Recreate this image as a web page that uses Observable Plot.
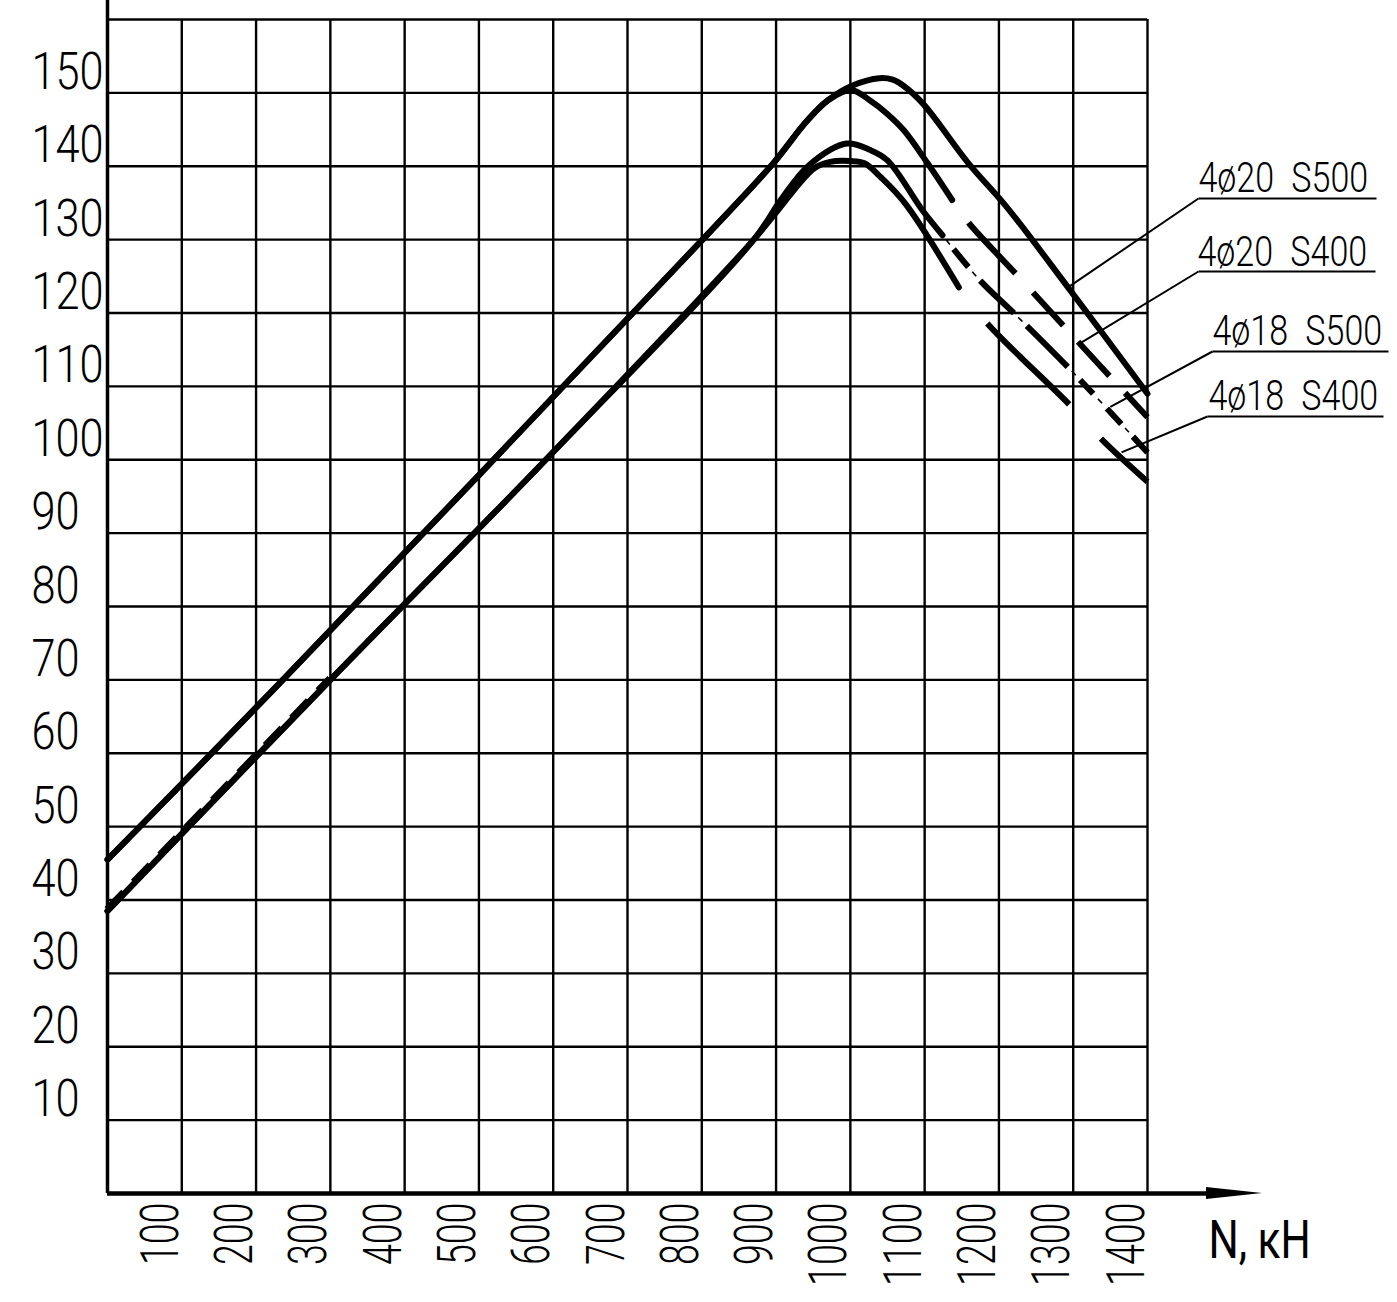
<!DOCTYPE html>
<html>
<head>
<meta charset="utf-8">
<script src="https://cdn.jsdelivr.net/npm/d3@7"></script>
<script src="https://cdn.jsdelivr.net/npm/@observablehq/plot@0.6"></script>
<style>
  body { margin: 0; background: #fff; }
  svg text { white-space: pre; }
</style>
</head>
<body>
<div id="chart"></div>
<script>
// ---------------- DATA ----------------
const seriesNames = ["4ø20\u2002S500", "4ø20\u2002S400", "4ø18\u2002S500", "4ø18\u2002S400"];

// N, kN (x) and the plotted value (y) for each curve
const c1N = [0, 236, 801, 897, 940, 970, 1003, 1039, 1057, 1071, 1098, 1159, 1210, 1293, 1400];
const c1M = [45.5, 70, 130, 140.5, 146, 149, 151, 152, 151.8, 151, 148.5, 140.4, 134.5, 123.5, 109];

const c2N = [0, 236, 801, 897, 940, 970, 1001, 1026, 1049, 1072, 1104, 1137, 1160, 1225, 1290, 1400];
const c2M = [45.5, 70, 130, 140.5, 146, 149, 150.4, 149, 147.2, 144.9, 140.4, 135.4, 132.2, 125.1, 117.9, 105.8];

const c3N = [0, 300, 590, 870, 907, 945, 995, 1027, 1050, 1097, 1124, 1174, 1221, 1295, 1400];
const c3M = [38.5, 70, 100, 130, 135.5, 140.2, 143.1, 142.2, 140.8, 134, 130.6, 124.5, 119.9, 112.4, 101];

const c4N = [0, 300, 590, 870, 900, 951, 973, 1000, 1019, 1041, 1074, 1146, 1185, 1296, 1340, 1400];
const c4M = [38.5, 70, 100, 130, 133.7, 139.7, 140.6, 140.7, 140.4, 138.5, 134.9, 123.5, 118.5, 107.4, 102.6, 97];

const xTicks = [100, 200, 300, 400, 500, 600, 700, 800, 900, 1000, 1100, 1200, 1300, 1400];
const yTicks = [10, 20, 30, 40, 50, 60, 70, 80, 90, 100, 110, 120, 130, 140, 150];
const yGrid  = [10, 20, 30, 40, 50, 60, 70, 80, 90, 100, 110, 120, 130, 140, 150, 160];
const xLabel = "N, кН";

// points on each curve where its leader line touches
const leaderN = [1293, 1308, 1350, 1365];
const leaderM = [123.5, 115.8, 107.2, 101];

// ---------------- LAYOUT / STYLE ----------------
const W = 1397, H = 1302, ML = 107, MR = 250, MT = 19, MB = 109;
const IW = W - ML - MR, IH = H - MT - MB;
const invX = px => (px - ML) / IW * 1400;
const invY = py => (H - MB - py) / IH * 160;
const FONT = "Roboto, 'DejaVu Sans Condensed', 'DejaVu Sans', sans-serif";

const curves = [[c1N, c1M], [c2N, c2M], [c3N, c3M], [c4N, c4M]];
const styles = [
  {breakN: Infinity},
  {breakN: 1137, dash: "0,28,69,26,45,22,46,23,80"},
  {breakN: 1124, dash: "0,18,23,18,47,18,58,18,19,20,21,17,80", dots: "0,6,6,35,6,59,6,70,6,32,6,33.5,6,200", riseTo: 300},
  {breakN: 1146, dash: "0,46,115,47,120"}
];
const legendPx = [
  {tx: 1198, ty: 191, ux1: 1198, ux2: 1376, uy: 198},
  {tx: 1197, ty: 265, ux1: 1198, ux2: 1375, uy: 271},
  {tx: 1212, ty: 344, ux1: 1212, ux2: 1388, uy: 351},
  {tx: 1208, ty: 409, ux1: 1207, ux2: 1383, uy: 416}
];
// horizontal squeeze of each text group (narrow drafting font)
const squeeze = {ylab: 0.85, xlab: 0.71, legend: 0.81, title: 0.8};

const heads = [], tails = [], rises = [];
curves.forEach(([N, M], k) => {
  const pts = N.map((n, i) => ({n, m: M[i], k}));
  heads.push(pts.filter(p => p.n <= styles[k].breakN));
  tails.push(pts.filter(p => p.n >= styles[k].breakN));
  if (styles[k].riseTo) rises.push(pts.filter(p => p.n <= styles[k].riseTo));
});

const legend = seriesNames.map((name, k) => ({
  name, ...legendPx[k], tN: leaderN[k], tM: leaderM[k]
}));

const CURVE = "catmull-rom";
const marks = [
  Plot.gridX(xTicks, {stroke: "black", strokeOpacity: 1, strokeWidth: 2.4}),
  Plot.gridY(yGrid, {stroke: "black", strokeOpacity: 1, strokeWidth: 2.4}),
  Plot.ruleX([0], {y1: 0, y2: invY(0), stroke: "black", strokeWidth: 3.5}),
  Plot.ruleY([0], {x1: 0, x2: invX(1215), stroke: "black", strokeWidth: 4.5}),
  (index, scales) => {
    const y0 = scales.y(0), xt = scales.x(invX(1262)), xb = scales.x(invX(1206));
    return d3.create("svg:path")
      .attr("d", `M${xb},${y0 - 6}L${xt},${y0}L${xb},${y0 + 6}Z`)
      .attr("fill", "black").node();
  },
  ...heads.map(h => Plot.line(h, {x: "n", y: "m", curve: CURVE, stroke: "black", strokeWidth: 6, strokeLinejoin: "round", strokeLinecap: "round"})),
  // dash-dot curve drawn alongside the shared rising line near the origin (notched look)
  ...rises.map(r => Plot.line(r, {x: "n", y: "m", curve: CURVE, stroke: "black", strokeWidth: 4, strokeLinecap: "butt", strokeDasharray: "24,14", dx: -1.5, dy: -2.5})),
  ...tails.map((t, k) => styles[k].dash ? Plot.line(t, {x: "n", y: "m", curve: CURVE, stroke: "black", strokeWidth: 6, strokeLinecap: "butt", strokeDasharray: styles[k].dash}) : null).filter(Boolean),
  ...tails.map((t, k) => styles[k].dots ? Plot.line(t, {x: "n", y: "m", curve: CURVE, stroke: "black", strokeWidth: 1.6, strokeLinecap: "butt", strokeDasharray: styles[k].dots}) : null).filter(Boolean),
  Plot.text(yTicks, {y: d => d, text: d => String(d), frameAnchor: "left", textAnchor: "start", lineAnchor: "bottom", dx: 31 - ML, dy: -4, fontSize: 51, fontWeight: 300, fill: "black", ariaDescription: "ylab"}),
  Plot.text(xTicks, {x: d => d, text: d => String(d), frameAnchor: "bottom", rotate: -90, textAnchor: "end", lineAnchor: "bottom", dx: -4, dy: 9, fontSize: 53, fontWeight: 300, fill: "black", ariaDescription: "xlab"}),
  Plot.text([xLabel], {text: d => d, frameAnchor: "bottom-right", textAnchor: "start", lineAnchor: "bottom", dx: 1208 - (W - MR), dy: 1257 - (H - MB), fontSize: 53, fill: "black", ariaDescription: "title"}),
  Plot.link(legend, {x1: "tN", y1: "tM", x2: d => invX(d.ux1), y2: d => invY(d.uy), stroke: "black", strokeWidth: 2}),
  Plot.link(legend, {x1: d => invX(d.ux1), x2: d => invX(d.ux2), y1: d => invY(d.uy), y2: d => invY(d.uy), stroke: "black", strokeWidth: 2}),
  Plot.text(legend, {x: d => invX(d.tx), y: d => invY(d.ty), text: "name", textAnchor: "start", lineAnchor: "bottom", fontSize: 42, fontWeight: 300, fill: "black", ariaDescription: "legend"})
];

const chart = Plot.plot({
  width: W, height: H,
  marginLeft: ML, marginRight: MR, marginTop: MT, marginBottom: MB,
  x: {domain: [0, 1400], axis: null},
  y: {domain: [0, 160], axis: null},
  style: {fontFamily: FONT, background: "white", overflow: "visible"},
  marks
});

// squeeze the text horizontally along its reading direction
Object.entries(squeeze).forEach(([key, s]) => {
  d3.select(chart).selectAll(`g[aria-description="${key}"] text`).each(function () {
    const t = this.getAttribute("transform") || "";
    this.setAttribute("transform", `${t} scale(${s},1)`);
  });
});
document.getElementById("chart").appendChild(chart);
</script>
</body>
</html>
